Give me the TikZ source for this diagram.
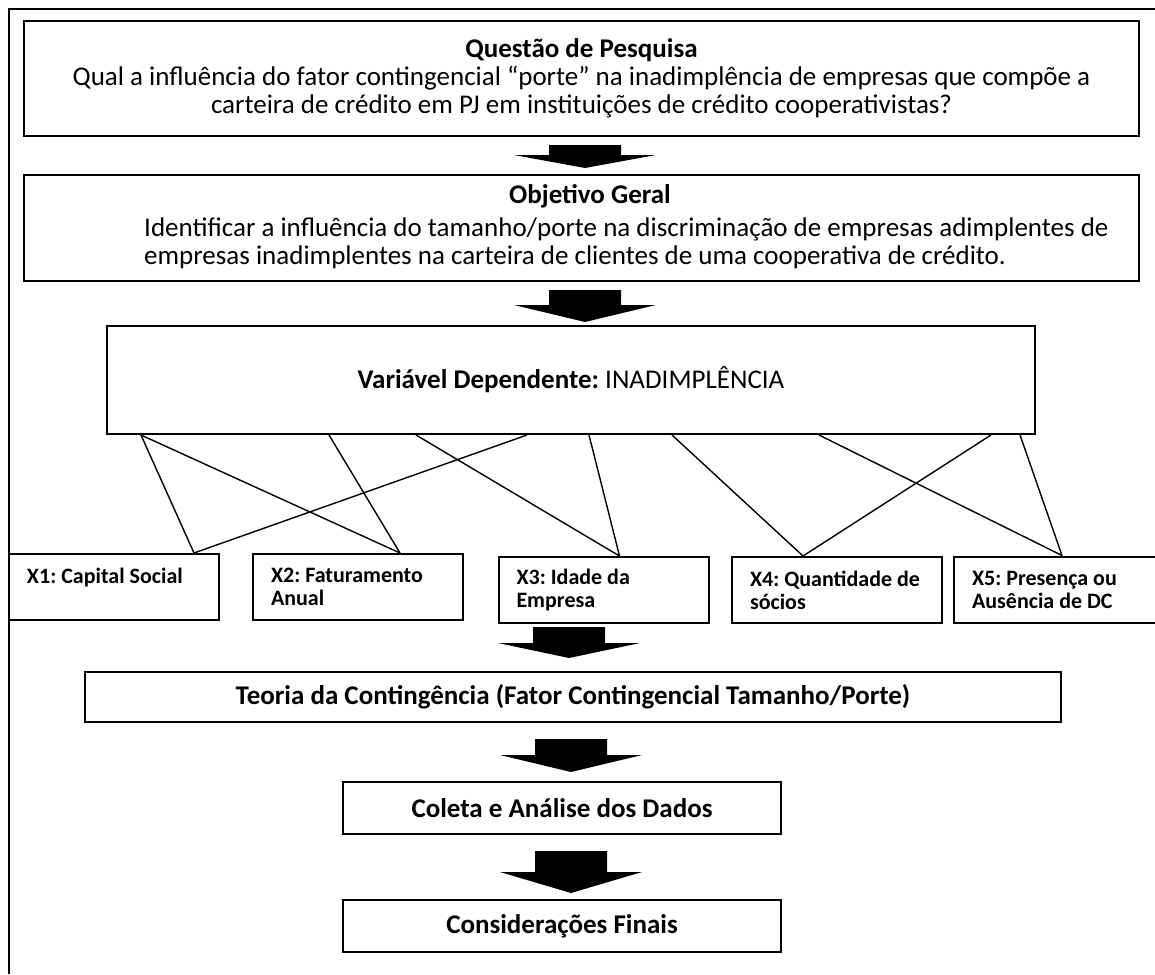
\documentclass[tikz,border=0pt]{standalone}
\usepackage{fontspec}
\setmainfont{Carlito}
\usepackage{tikz}
\usetikzlibrary{calc}
\frenchspacing

\tikzset{
  box/.style={draw,line width=2pt,inner sep=0pt,align=center},
  boldbox/.style={box,font=\fontsize{27}{28}\selectfont\bfseries},
  varbox/.style={draw,line width=2pt,text width=174pt,inner xsep=18pt,inner ysep=0pt,
    minimum height=66pt,align=flush left,font=\fontsize{22}{23}\selectfont\bfseries},
  link/.style={line width=1.4pt},
  pics/downarrow/.style n args={2}{code={
    \fill (-36,0) -- (36,0) -- (36,#1) -- (71,#1) -- (0,#1+#2) -- (-71,#1) -- (-36,#1) -- cycle;
  }}
}

\begin{document}
\begin{tikzpicture}[x=1pt,y=-1pt,font=\fontsize{27}{28}\selectfont]
  \useasboundingbox (0,0) rectangle (1155,974);
  \draw[line width=2pt] (9,974) -- (9,9) -- (1155,9);

  \node[box,minimum width=1115pt,minimum height=115pt] (q) at (581.5,78.5)
    {\textbf{Questão de Pesquisa}\\Qual a influência do fator contingencial “porte” na inadimplência de empresas que compõe a\\carteira de crédito em PJ em instituições de crédito cooperativistas?};
  \node[box,minimum width=1115pt,minimum height=106pt] (o) at (581.5,227.5) {};
  \node[font=\fontsize{27}{28}\selectfont\bfseries] (otit) at (590,196) {Objetivo Geral};
  \node[anchor=west,align=left,inner sep=0pt] (otxt) at (144,243)
    {Identificar a influência do tamanho/porte na discriminação de empresas adimplentes de\\empresas inadimplentes na carteira de clientes de uma cooperativa de crédito.};
  \node[box,minimum width=928pt,minimum height=108pt] (v) at (571,380)
    {\textbf{Variável Dependente:} INADIMPLÊNCIA};

  \node[varbox] (x1) at (114,587) {\mbox{X1: Capital Social}\\\mbox{}};
  \node[varbox] (x2) at (358,587) {\mbox{X2: Faturamento}\\Anual};
  \node[varbox] (x3) at (603.5,590) {\mbox{X3: Idade da}\\Empresa};
  \node[varbox] (x4) at (837,590) {\mbox{X4: Quantidade de}\\sócios};
  \node[varbox] (x5) at (1059,589.5) {\mbox{X5: Presença ou}\\\mbox{Ausência de DC}};

  \node[boldbox,minimum width=976pt,minimum height=50pt] (t) at (573,697)
    {Teoria da Contingência (Fator Contingencial Tamanho/Porte)};
  \node[boldbox,minimum width=438pt,minimum height=52pt] (c) at (562,808) {Coleta e Análise dos Dados};
  \node[boldbox,minimum width=438pt,minimum height=52pt] (f) at (562,926) {Considerações Finais};

  \draw[link] ($(v.south west)+(35,0)$) -- ($(x1.north west)+(186,0)$);
  \draw[link] ($(v.south west)+(35,0)$) -- ($(x2.north west)+(148,0)$);
  \draw[link] ($(v.south west)+(223,0)$) -- ($(x2.north west)+(148,0)$);
  \draw[link] ($(v.south west)+(421,0)$) -- ($(x1.north west)+(186,0)$);
  \draw[link] ($(v.south west)+(310,0)$) -- ($(x3.north west)+(122,0)$);
  \draw[link] ($(v.south west)+(483,0)$) -- ($(x3.north west)+(122,0)$);
  \draw[link] ($(v.south west)+(566,0)$) -- ($(x4.north west)+(72,0)$);
  \draw[link] ($(v.south west)+(885,0)$) -- ($(x4.north west)+(72,0)$);
  \draw[link] ($(v.south west)+(713,0)$) -- ($(x5.north west)+(109,0)$);
  \draw[link] ($(v.south west)+(914,0)$) -- ($(x5.north west)+(109,0)$);

  \pic at (585,145) {downarrow={10}{13}};
  \pic at (585,290) {downarrow={15}{17}};
  \pic at (569,627) {downarrow={16}{15}};
  \pic at (571,739) {downarrow={16}{17}};
  \pic at (571,851) {downarrow={21}{21}};
\end{tikzpicture}
\end{document}
